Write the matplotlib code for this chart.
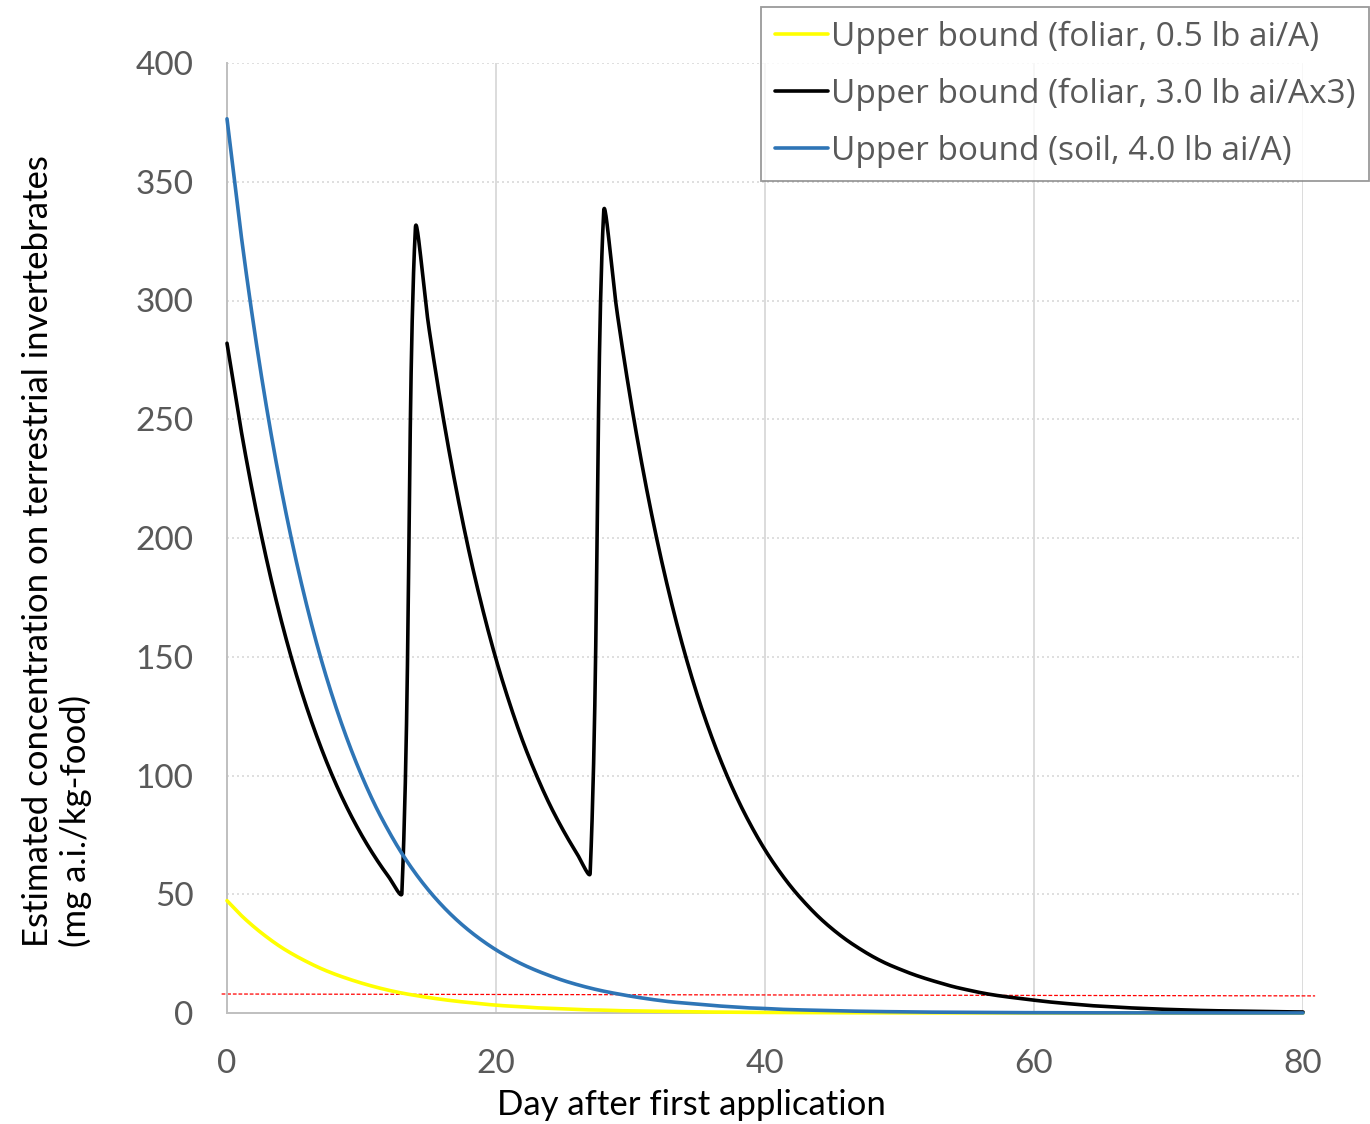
import numpy as np
import matplotlib
matplotlib.use("Agg")
import matplotlib.pyplot as plt

# ---------------- data ----------------
days = list(range(0, 81))

foliar_05 = [47.3, 41.4, 36.3, 31.8, 27.8, 24.4, 21.4, 18.7, 16.4, 14.4,
             12.6, 11.0, 9.6, 8.4, 7.4, 6.5, 5.7, 5.0, 4.4, 3.8,
             3.3, 2.9, 2.6, 2.2, 2.0, 1.7, 1.5, 1.3, 1.2, 1.0,
             0.9, 0.78, 0.68, 0.6, 0.52, 0.46, 0.4, 0.35, 0.31, 0.27,
             0.24, 0.21, 0.18, 0.16, 0.14, 0.12, 0.11, 0.09, 0.08, 0.07,
             0.06, 0.055, 0.048, 0.042, 0.037, 0.032, 0.028, 0.025, 0.022, 0.019,
             0.017, 0.015, 0.013, 0.011, 0.01, 0.009, 0.008, 0.007, 0.006, 0.005,
             0.0045, 0.004, 0.0035, 0.003, 0.0027, 0.0024, 0.002, 0.0018, 0.0016, 0.0014,
             0.0012]

foliar_30x3 = [282.0, 247.0, 216.4, 189.5, 166.0, 145.4, 127.4, 111.6, 97.7, 85.6,
               75.0, 65.7, 57.5, 50.4, 330.0, 289.0, 253.2, 221.8, 194.2, 170.2,
               149.0, 130.6, 114.3, 100.2, 87.7, 76.9, 67.3, 58.9, 337.0, 295.2,
               258.5, 226.5, 198.4, 173.8, 152.2, 133.3, 116.8, 102.3, 89.6, 78.5,
               68.7, 60.2, 52.7, 46.2, 40.4, 35.4, 31.0, 27.2, 23.8, 20.9,
               18.5, 16.3, 14.4, 12.7, 11.1, 9.8, 8.6, 7.6, 6.8, 6.1,
               5.4, 4.75, 4.2, 3.7, 3.2, 2.85, 2.5, 2.2, 1.95, 1.7,
               1.5, 1.3, 1.15, 1.0, 0.9, 0.8, 0.7, 0.6, 0.55, 0.48,
               0.42]

soil_40 = [376.5, 329.8, 288.9, 253.0, 221.6, 194.1, 170.0, 148.9, 130.5, 114.3,
           100.1, 87.6, 76.8, 67.2, 58.9, 51.6, 45.2, 39.6, 34.7, 30.4,
           26.6, 23.3, 20.4, 17.9, 15.7, 13.7, 12.0, 10.5, 9.2, 8.1,
           7.1, 6.2, 5.4, 4.7, 4.2, 3.7, 3.2, 2.8, 2.4, 2.1,
           1.9, 1.6, 1.4, 1.25, 1.1, 0.97, 0.85, 0.74, 0.65, 0.57,
           0.5, 0.44, 0.38, 0.34, 0.3, 0.26, 0.23, 0.2, 0.17, 0.15,
           0.13, 0.12, 0.1, 0.09, 0.08, 0.07, 0.06, 0.05, 0.045, 0.04,
           0.035, 0.03, 0.027, 0.024, 0.02, 0.018, 0.016, 0.014, 0.012, 0.011,
           0.01]

threshold_x = [-0.4, 80.9]
threshold_y = [8.0, 7.2]

series_labels = ["Upper bound (foliar, 0.5 lb ai/A)",
                 "Upper bound (foliar, 3.0 lb ai/Ax3)",
                 "Upper bound (soil, 4.0 lb ai/A)"]
series_colors = ["#FFFF00", "#000000", "#2E75B6"]

x_ticks = [0, 20, 40, 60, 80]
y_ticks = [0, 50, 100, 150, 200, 250, 300, 350, 400]

# ---------------- figure ----------------
W, H = 1370, 1124
fig = plt.figure(figsize=(W / 100, H / 100), dpi=100)
ax = fig.add_axes([227 / W, 1 - 1013 / H, (1303 - 227) / W, (1013 - 63) / H])
ax.set_xlim(0, 80)
ax.set_ylim(0, 400)


def excel_smooth(ax, x, y, n=24):
    """Excel-like smoothed line: Bezier segments built in display space."""
    P = ax.transData.transform(np.column_stack([x, y]).astype(float))
    m = len(P)
    out = [P[0]]
    t = np.linspace(0, 1, n + 1)[1:][:, None]
    for i in range(m - 1):
        p0 = P[i - 1] if i > 0 else P[i]
        p1 = P[i]
        p2 = P[i + 1]
        p3 = P[i + 2] if i + 2 < m else P[i + 1]
        d01 = np.hypot(*(p1 - p0))
        d12 = np.hypot(*(p2 - p1))
        d23 = np.hypot(*(p3 - p2))
        f1 = d12 / (d01 + d12) / 3 if d01 + d12 > 0 else 0
        f2 = d12 / (d12 + d23) / 3 if d12 + d23 > 0 else 0
        c1 = p1 + (p2 - p0) * f1
        c2 = p2 - (p3 - p1) * f2
        seg = ((1 - t) ** 3) * p1 + 3 * ((1 - t) ** 2) * t * c1 + 3 * (1 - t) * t ** 2 * c2 + t ** 3 * p2
        out.extend(seg)
    d = ax.transData.inverted().transform(np.array(out))
    return d[:, 0], d[:, 1]


# gridlines
for yv in y_ticks[1:]:
    ax.axhline(yv, color="#D9D9D9", lw=1.2, ls=(0, (1.2, 1.8)), zorder=0)
for xv in x_ticks[1:]:
    ax.axvline(xv, color="#D9D9D9", lw=1.3, zorder=0)

# threshold line
ax.plot(threshold_x, threshold_y, color="#FF0000", lw=0.9, ls=(0, (3, 1.5)),
        clip_on=False, zorder=1)

for vals, col, lab in zip([foliar_05, foliar_30x3, soil_40], series_colors, series_labels):
    sx, sy = excel_smooth(ax, days, vals)
    ax.plot(sx, sy, color=col, lw=2.6, solid_capstyle="round", solid_joinstyle="round",
            label=lab, zorder=3, clip_on=False)

for s in ["top", "right"]:
    ax.spines[s].set_visible(False)
for s in ["left", "bottom"]:
    ax.spines[s].set_color("#BFBFBF")
    ax.spines[s].set_linewidth(1.4)

tick_font = "Lato"
ax.set_xticks(x_ticks)
ax.set_yticks(y_ticks)
ax.tick_params(length=0, labelsize=24, labelcolor="#595959")
ax.tick_params(axis="y", pad=24)
ax.tick_params(axis="x", pad=26)
for lbl in ax.get_xticklabels() + ax.get_yticklabels():
    lbl.set_fontfamily(tick_font)

fig.text(691 / W, 1 - 1105 / H, "Day after first application", ha="center", va="center",
         fontsize=25, family="Lato", color="#000000")
fig.text(57 / W, 1 - 947 / H,
         "Estimated concentration on terrestrial invertebrates\n(mg a.i./kg-food)",
         rotation=90, ha="center", va="bottom", multialignment="left",
         fontsize=25, family="Lato", color="#000000", linespacing=1.2)

leg = ax.legend(loc="upper right", bbox_to_anchor=(1369 / W, 1 - 7 / H),
                bbox_transform=fig.transFigure, borderaxespad=0, frameon=True,
                fancybox=False, prop={"family": "Open Sans", "size": 24},
                handlelength=1.6, handletextpad=0.1, labelspacing=0.72,
                borderpad=0.4)
leg.get_frame().set_edgecolor("#808080")
leg.get_frame().set_linewidth(1.3)
for txt in leg.get_texts():
    txt.set_color("#595959")
for ln in leg.get_lines():
    ln.set_linewidth(2.6)

fig.savefig("out.png", dpi=100)
